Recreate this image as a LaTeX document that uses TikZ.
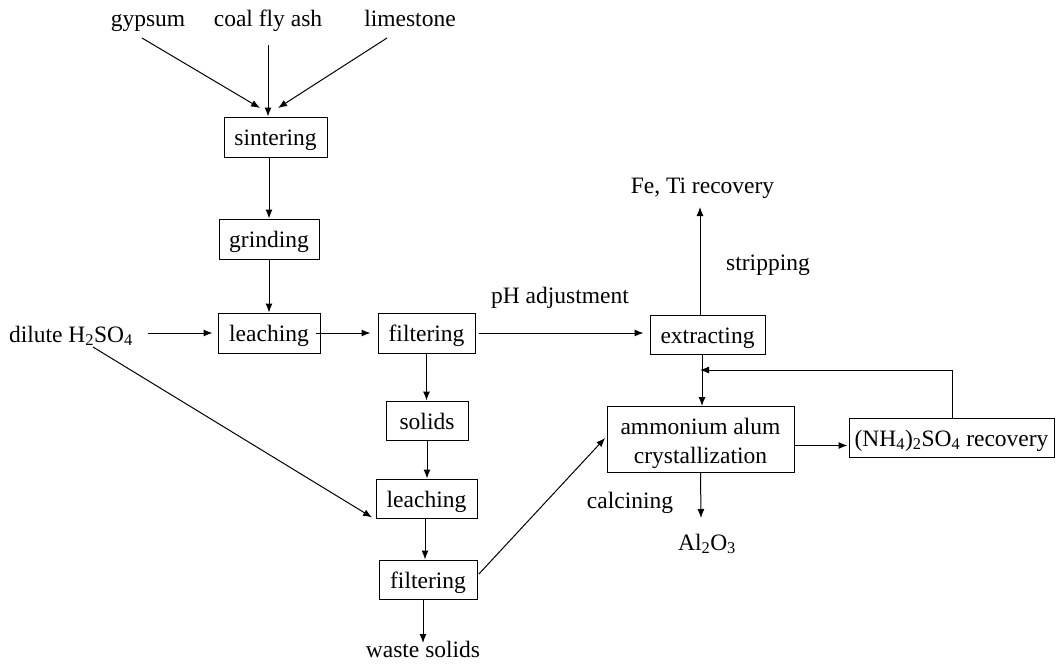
\documentclass[tikz,border=0pt]{standalone}
\usepackage{fontspec}
\setmainfont{Liberation Serif}
\usetikzlibrary{arrows.meta,calc}
\begin{document}
\begin{tikzpicture}[x=1pt,y=-1pt,
  font=\fontsize{23.5}{29}\selectfont,
  box/.style={draw,line width=1pt,inner sep=0pt,align=center},
  sbox/.style={box,text height=17pt,text depth=0pt},
  lbl/.style={inner sep=0pt,anchor=base},
  arr/.style={line width=1pt,-{Latex[length=9pt,width=7pt]}},
  ln/.style={line width=1pt}]
\useasboundingbox (0,0) rectangle (1056,670);
% boxes
\node[sbox,minimum width=103,minimum height=40] (sint) at (275.5,137) {sintering};
\node[sbox,minimum width=100,minimum height=40] (grind) at (269,239) {grinding};
\node[sbox,minimum width=102,minimum height=40] (leach1) at (269,333) {leaching};
\node[sbox,minimum width=97,minimum height=40] (filt1) at (426.5,333) {filtering};
\node[sbox,minimum width=115,minimum height=39] (extr) at (707.5,334.5) {extracting};
\node[sbox,minimum width=82,minimum height=39] (solids) at (427,420.5) {solids};
\node[sbox,minimum width=101,minimum height=39] (leach2) at (426.5,498.5) {leaching};
\node[sbox,minimum width=98,minimum height=39] (filt2) at (428,579.5) {filtering};
\node[box,minimum width=187,minimum height=66] (amm) at (700.5,439.5)
  {\raisebox{5.5pt}[0pt][0pt]{\begin{tabular}[t]{@{}c@{}}ammonium alum\\crystallization\end{tabular}}};
\node[sbox,minimum width=205,minimum height=39] (nh4) at (951.5,437.5) {(NH\textsubscript{4})\textsubscript{2}SO\textsubscript{4} recovery};
% labels
\node[lbl] (gyp) at (148,26) {gypsum};
\node[lbl] (coal) at (268,26) {coal fly ash};
\node[lbl] (lime) at (410,26) {limestone};
\node[lbl] (dil) at (71,342) {dilute H\textsubscript{2}SO\textsubscript{4}};
\node[lbl] (ph) at (560,303) {pH adjustment};
\node[lbl] (fe) at (702.5,193) {Fe, Ti recovery};
\node[lbl] (strip) at (768,270) {stripping};
\node[lbl] (calc) at (630,508) {calcining};
\node[lbl] (al) at (707,550) {Al\textsubscript{2}O\textsubscript{3}};
\node[lbl] (waste) at (423,657) {waste solids};
% connector end points
\coordinate (g1) at (142,38);
\coordinate (g2) at (260,108);
\coordinate (c1) at (268,45);
\coordinate (l1) at (387,38);
\coordinate (l2) at (278,108);
\coordinate (d1) at (148,333);
\coordinate (d2) at (93,347);
\coordinate (fe1) at (700,207);
\coordinate (wa) at (423,643);
\coordinate (al1) at (701,518);
\coordinate (fb) at (952,370);
% connectors
\draw[arr] (g1) -- (g2);
\draw[arr] (c1) -- (c1 |- sint.north);
\draw[arr] (l1) -- (l2);
\draw[arr] (grind.north |- sint.south) -- (grind.north);
\draw[arr] (grind.south) -- (leach1.north);
\draw[arr,shorten >=5pt] (d1) -- (leach1.west);
\draw[arr,shorten >=7pt] ([xshift=-5pt]leach1.east) -- (filt1.west);
\draw[arr,shorten <=3pt,shorten >=6pt] (filt1.east) -- (filt1.east -| extr.west);
\draw[arr] (filt1.south) -- (filt1.south |- solids.north);
\draw[arr] (solids.south) -- (solids.south |- leach2.north);
\draw[arr] ([xshift=-1.5pt]leach2.south) -- ([xshift=-1.5pt]leach2.south |- filt2.north);
\draw[arr] ([xshift=-5pt]filt2.south) -- (wa);
\draw[arr,shorten >=4pt] (d2) -- ([yshift=-21pt]leach2.west);
\draw[arr,shorten <=2pt,shorten >=2pt] ([yshift=4pt]filt2.east) -- ([yshift=3pt]amm.west);
\draw[arr] ([xshift=-7.5pt]extr.north) -- (fe1);
\draw[arr] ([xshift=-5.5pt]extr.south) -- ([xshift=-5.5pt]extr.south |- amm.north);
\draw[ln] (nh4.north -| fb) -- (fb);
\draw[arr] (fb) -- ([xshift=-7.5pt]extr.south |- fb);
\draw[arr,shorten >=1pt] ([yshift=-6pt]amm.east) -- ([yshift=-6pt]amm.east -| nh4.west);
\draw[arr] (amm.south) -- (al1);
\end{tikzpicture}
\end{document}
